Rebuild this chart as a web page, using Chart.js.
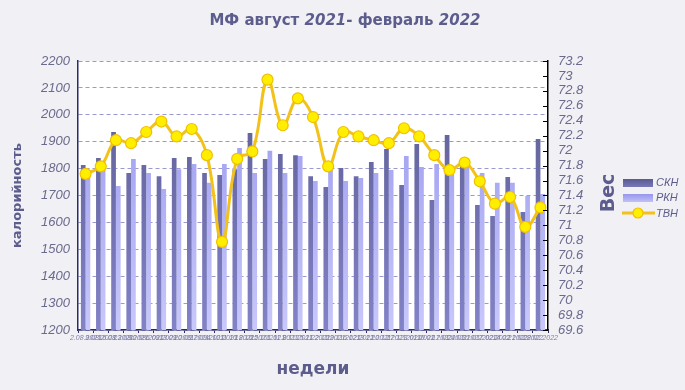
<!DOCTYPE html>
<html>
<head>
<meta charset="utf-8">
<script src="https://cdn.jsdelivr.net/npm/chart.js@4.4.1/dist/chart.umd.min.js"></script>
<style>
html,body{margin:0;padding:0;background:#f1f0f5;}
#wrap{width:685px;height:390px;}
</style>
</head>
<body>
<div id="wrap"><canvas id="c" width="685" height="390"></canvas></div>
<script>
const weeks = ["2.08.2021","9.08.2021","16.08.2021","23.08.2021","30.08.2021","6.09.2021","13.09.2021","20.09.2021","27.09.2021","4.10.2021","11.10.2021","18.10.2021","25.10.2021","1.11.2021","8.11.2021","15.11.2021","22.11.2021","29.11.2021","6.12.2021","13.12.2021","20.12.2021","27.12.2021","3.01.2022","10.01.2022","17.01.2022","24.01.2022","31.01.2022","7.02.2022","14.02.2022","21.02.2022","28.02.2022"];
const skn = [1813,1839,1936,1784,1813,1772,1839,1843,1784,1776,1798,1932,1836,1854,1850,1772,1732,1802,1772,1825,1873,1739,1891,1683,1925,1810,1665,1624,1769,1639,1910];
const rkn = [1776,1795,1735,1836,1784,1724,1798,1817,1747,1817,1877,1784,1866,1784,1847,1754,1795,1754,1765,1784,1795,1847,1806,1817,1780,1806,1784,1747,1747,1698,1706];
const tvn = [71.69,71.79,72.14,72.10,72.25,72.39,72.19,72.29,71.94,70.78,71.89,71.99,72.95,72.34,72.70,72.45,71.79,72.25,72.19,72.14,72.10,72.30,72.19,71.94,71.74,71.84,71.59,71.29,71.38,70.98,71.24];
const leftTicks = {min:1200, max:2200, step:100};
const rightTicks = {min:69.6, max:73.2, step:0.2};

const TXT = '#5c5c8d';
const TICK = '#6a6a8e';

function grad(ctx, top, bottom){
  const ch = ctx.chart; const a = ch.chartArea;
  if(!a) return top;
  const g = ch.ctx.createLinearGradient(0, a.top, 0, a.bottom);
  g.addColorStop(0, top); g.addColorStop(1, bottom);
  return g;
}

const bgPlugin = {
  id:'bg',
  beforeDraw(ch){
    const c = ch.ctx, a = ch.chartArea;
    c.save();
    c.fillStyle = '#f1f0f5'; c.fillRect(0,0,ch.width,ch.height);
    c.fillStyle = '#ffffff'; c.fillRect(a.left,a.top,a.right-a.left,a.bottom-a.top);
    c.restore();
  },
  afterDraw(ch){
    const c = ch.ctx, a = ch.chartArea;
    const s = ch.scales.y1;
    c.save();
    c.strokeStyle = '#000'; c.lineWidth = 1;
    s.ticks.forEach(t=>{
      const y = Math.round(s.getPixelForValue(t.value))+0.5;
      c.beginPath(); c.moveTo(a.right-5,y); c.lineTo(a.right,y); c.stroke();
    });
    const segs = [["МФ август ","bold 15px 'DejaVu Sans'"],["2021","italic bold 15px 'DejaVu Sans'"],["- февраль ","bold 15px 'DejaVu Sans'"],["2022","italic bold 15px 'DejaVu Sans'"]];
    let total = 0;
    segs.forEach(s2=>{c.font=s2[1]; total += c.measureText(s2[0]).width;});
    let x = 345 - total/2;
    c.fillStyle = TXT; c.textBaseline = 'middle'; c.textAlign='left';
    segs.forEach(s2=>{c.font=s2[1]; c.fillText(s2[0], x, 21); x += c.measureText(s2[0]).width;});
    c.save();
    c.translate(609,193); c.rotate(-Math.PI/2);
    c.font = "bold 19px 'DejaVu Sans'"; c.textAlign='center'; c.textBaseline='middle';
    c.fillText('Вес',0,0);
    c.restore();
    let g1 = c.createLinearGradient(0,179,0,187); g1.addColorStop(0,'#5a5a90'); g1.addColorStop(1,'#7878b8');
    c.fillStyle = g1; c.fillRect(623,179,30,8);
    let g2 = c.createLinearGradient(0,194,0,202); g2.addColorStop(0,'#9696ec'); g2.addColorStop(1,'#c0c0f8');
    c.fillStyle = g2; c.fillRect(623,194,30,8);
    c.strokeStyle = '#f2c21b'; c.lineWidth = 3;
    c.beginPath(); c.moveTo(622,213); c.lineTo(655,213); c.stroke();
    c.beginPath(); c.arc(638,213,5,0,Math.PI*2); c.fillStyle='#ffee00'; c.fill();
    c.lineWidth=1.2; c.strokeStyle='#f0c000'; c.stroke();
    c.font = "italic 11px 'Liberation Sans'"; c.fillStyle = TXT; c.textAlign='left'; c.textBaseline='middle';
    c.fillText('СКН',656,183); c.fillText('РКН',656,198); c.fillText('ТВН',656,214);
    c.restore();
  }
};

new Chart(document.getElementById('c'), {
  type:'bar',
  data:{
    labels: weeks,
    datasets:[
      {type:'line', label:'ТВН', data:tvn, yAxisID:'y1', order:0,
       borderColor:'#f2c21b', borderWidth:3, tension:0.4,
       pointRadius:5.5, pointBackgroundColor:'#ffee00', pointBorderColor:'#f0c000', pointBorderWidth:1.2},
      {label:'СКН', data:skn, yAxisID:'y', order:1,
       backgroundColor:(ctx)=>grad(ctx,'#5a5a90','#8282c8'), categoryPercentage:0.62, barPercentage:1},
      {label:'РКН', data:rkn, yAxisID:'y', order:1,
       backgroundColor:(ctx)=>grad(ctx,'#9494ee','#c8c8fb'), categoryPercentage:0.62, barPercentage:1}
    ]
  },
  options:{
    responsive:false, animation:false, devicePixelRatio:1,
    layout:{padding:{top:61,left:0,right:97,bottom:0}},
    plugins:{legend:{display:false}, tooltip:{enabled:false}, title:{display:false}},
    scales:{
      x:{
        offset:true,
        grid:{display:true, drawOnChartArea:false, tickLength:3, color:'#2a2a6a'},
        border:{color:'#2a2a6a', width:1.5},
        ticks:{autoSkip:false, maxRotation:0, minRotation:0, color:'#8080a8', padding:1,
               font:{size:7, style:'italic', family:"'Liberation Sans'"}},
        title:{display:true, text:'недели', color:TXT, padding:{top:0,bottom:10},
               font:{size:17, weight:'bold', family:"'DejaVu Sans'"}},
        afterFit(s){s.height=60;}
      },
      y:{
        position:'left', min:leftTicks.min, max:leftTicks.max,
        ticks:{stepSize:leftTicks.step, autoSkip:false, color:TICK, padding:8,
               font:{size:13, style:'italic', family:"'Liberation Sans'"},
               callback:(v)=>String(Math.round(v))},
        grid:{color:'#9a9ad0', drawTicks:false, lineWidth:1},
        border:{color:'#2a2a6a', width:1.5, dash:[4,3]},
        title:{display:true, text:'калорийность', color:TXT, padding:{top:10,bottom:0},
               font:{size:13, weight:'bold', family:"'DejaVu Sans'"}},
        afterFit(s){s.width=78;}
      },
      y1:{
        position:'right', min:rightTicks.min, max:rightTicks.max,
        ticks:{stepSize:rightTicks.step, autoSkip:false, color:TICK, padding:10,
               font:{size:13, style:'italic', family:"'Liberation Sans'"},
               callback:(v)=>String(Math.round(v*10)/10)},
        grid:{drawOnChartArea:false, drawTicks:false},
        border:{color:'#000', width:1.5},
        afterFit(s){s.width=40;}
      }
    }
  },
  plugins:[bgPlugin]
});
</script>
</body>
</html>
